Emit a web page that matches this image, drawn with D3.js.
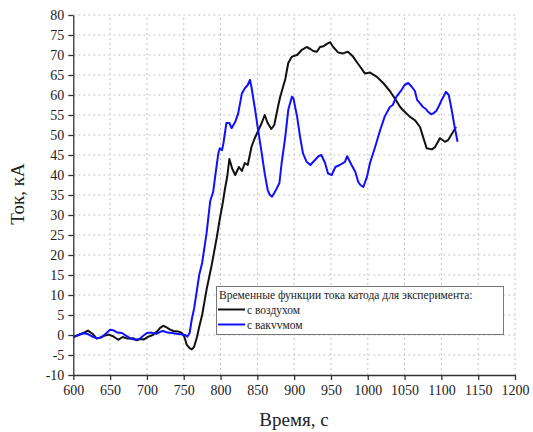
<!DOCTYPE html>
<html lang="ru">
<head>
    <meta charset="UTF-8">
    <script src="https://d3js.org/d3.v7.min.js"></script>
    <title>Ток катода</title>
    <style>
        body { margin: 0; background: #fff; }
        .grid line { stroke: #c4c4c4; stroke-dasharray: 2,3; }
        .axis path, .axis line { stroke: #333; stroke-width: 1.3; }
    </style>
</head>
<body>
<script>
    // ток при эксперименте с воздухом
    var timeAir = [600, 607, 614, 620, 626, 632, 637, 642, 648, 654, 661, 667, 674, 681, 686, 691, 696, 702, 708, 714,
        718, 722, 726, 731, 736, 742, 747, 751, 754, 758, 761, 764, 768, 771, 775, 781, 788, 795, 799, 803,
        806, 809, 812, 816, 820, 825, 829, 833, 837, 842, 846, 851, 856, 860, 864, 869, 873, 878, 881, 888,
        892, 897, 904, 910, 917, 922, 926, 931, 935, 940, 944, 949, 953, 960, 966, 973, 980, 986, 990, 996,
        1003, 1012, 1021, 1030, 1039, 1044, 1048, 1057, 1064, 1071, 1075, 1080, 1087, 1091, 1098, 1105, 1109, 1116, 1120];
    var currentAir = [-0.5, 0, 0.5, 1.1, 0.3, -0.9, -0.6, -0.2, 0.1, -0.3, -1.2, -0.5, -0.9, -0.8, -1.3, -1.0, -1.1, -0.4, 0, 0.9,
        1.8, 2.3, 2.0, 1.4, 1.0, 0.9, 0.6, -0.5, -2.4, -3.3, -3.6, -3.0, -0.5, 2.0, 5.0, 11.3, 17.5, 24.5, 29, 33,
        36.5, 39.5, 44, 41.5, 40, 42, 41, 43, 42.5, 47, 49, 51, 53, 55, 53, 51.5, 52.5, 57, 59.5, 64,
        68, 69.6, 70, 71.2, 72, 71.5, 71, 70.8, 72, 72.2, 72.7, 73.2, 72, 70.6, 70.4, 70.8, 69.6, 68, 67, 65.4,
        65.6, 64.6, 63, 61, 58.5, 57, 56.2, 54.6, 53.7, 52, 49.6, 46.7, 46.4, 46.9, 49.2, 48.3, 48.7, 50.8, 52];

    // ток при эксперименте с вакуумом
    var timeVac = [600, 607, 614, 620, 626, 632, 638, 644, 650, 654, 660, 666, 672, 678, 684, 690, 695, 700, 706, 713,
        718, 722, 728, 734, 740, 746, 752, 755, 758, 761, 764, 768, 771, 775, 781, 786, 790, 793, 797, 799,
        802, 804, 808, 812, 815, 820, 824, 829, 833, 837, 840, 842, 847, 851, 856, 860, 864, 867, 870, 873,
        876, 880, 883, 888, 892, 897, 899, 904, 908, 912, 917, 922, 927, 933, 937, 942, 946, 951, 956, 962,
        969, 972, 978, 983, 987, 990, 994, 999, 1003, 1010, 1017, 1023, 1030, 1034, 1039, 1046, 1050, 1055, 1060, 1064,
        1067, 1071, 1075, 1079, 1082, 1086, 1089, 1093, 1096, 1100, 1103, 1106, 1110, 1114, 1118, 1122];
    var currentVac = [-0.5, 0, 0.5, 0.2, -0.4, -0.8, -0.6, 0.3, 1.3, 1.2, 0.6, 0.5, -0.2, -0.9, -1.2, -1.0, -0.2, 0.5, 0.6, 0.3,
        0.8, 1.0, 0.6, 0.5, 0.3, 0.2, 0, -0.4, 0.5, 4, 6.5, 11.3, 15, 18, 25.4, 33.5, 35.8, 40, 45.4, 46.7,
        46.2, 48, 53, 53, 51.7, 53.3, 55.4, 60.4, 61.7, 62.5, 63.8, 62, 56.3, 51.3, 45.4, 40.4, 36.3, 35, 34.6, 35.5,
        36.5, 38, 43, 49.6, 56.3, 59.6, 59.2, 54.6, 49.6, 45.4, 43.3, 42.5, 43.5, 44.7, 45, 43, 40.4, 40, 42, 42.5,
        43.3, 44.7, 42.5, 40.8, 38.3, 37.5, 37, 39.6, 43, 47, 51.3, 54.6, 57, 57.5, 59.6, 61.3, 62.5, 63, 62, 61,
        58.8, 57.9, 57, 56.5, 55.8, 55.2, 55.4, 56, 57, 58.6, 59.6, 60.8, 60, 56.3, 52, 48.3];

    var xTicks = d3.range(600, 1201, 50);
    var yTicks = d3.range(-10, 81, 5);

    var serif = "'Liberation Serif', 'Times New Roman', serif";
    var canvasWidth = 533;
    var canvasHeight = 432;

    var svg = d3.select("body").append("svg")
        .attr("width", canvasWidth)
        .attr("height", canvasHeight);

    var xScale = d3.scaleLinear().domain([600, 1200]).range([73.3, 515]);
    var yScale = d3.scaleLinear().domain([-10, 80]).range([375, 15]);

    // сетка
    svg.append("g").attr("class", "grid")
        .selectAll("line").data(xTicks.slice(1)).enter().append("line")
        .attr("x1", function(d){ return xScale(d); })
        .attr("x2", function(d){ return xScale(d); })
        .attr("y1", yScale(-10))
        .attr("y2", yScale(80));
    svg.append("g").attr("class", "grid")
        .selectAll("line").data(yTicks.slice(1)).enter().append("line")
        .attr("x1", xScale(600))
        .attr("x2", xScale(1200))
        .attr("y1", function(d){ return yScale(d); })
        .attr("y2", function(d){ return yScale(d); });

    var line = d3.line()
        .x(function(d){ return xScale(d[0]); })
        .y(function(d){ return yScale(d[1]); });

    svg.append("path")
        .datum(d3.zip(timeAir, currentAir))
        .attr("fill", "none")
        .attr("stroke", "#111")
        .attr("stroke-width", 2)
        .attr("stroke-linejoin", "round")
        .attr("d", line);

    svg.append("path")
        .datum(d3.zip(timeVac, currentVac))
        .attr("fill", "none")
        .attr("stroke", "#1010ff")
        .attr("stroke-width", 2)
        .attr("stroke-linejoin", "round")
        .attr("d", line);

    // оси
    svg.append("g")
        .attr("class", "axis")
        .attr("transform", "translate(0," + yScale(-10) + ")")
        .call(d3.axisBottom(xScale).tickValues(xTicks).tickSize(5).tickPadding(5).tickSizeOuter(0)
            .tickFormat(d3.format("d")));
    svg.append("g")
        .attr("class", "axis")
        .attr("transform", "translate(" + xScale(600) + ",0)")
        .call(d3.axisLeft(yScale).tickValues(yTicks).tickSize(5).tickPadding(4).tickSizeOuter(0)
            .tickFormat(function(d){ return d < 0 ? "-" + Math.abs(d) : d; }));
    svg.selectAll(".axis").attr("font-family", null).attr("font-size", null);
    svg.selectAll(".axis text")
        .style("font-family", serif)
        .style("font-size", "14px")
        .style("fill", "#222");

    svg.append("text")
        .attr("transform", "translate(24," + 194 + ") rotate(-90)")
        .attr("text-anchor", "middle")
        .style("font-family", serif)
        .style("font-size", "19px")
        .attr("fill", "#222")
        .text("Ток, кА");
    svg.append("text")
        .attr("x", 294)
        .attr("y", 426)
        .attr("text-anchor", "middle")
        .style("font-family", serif)
        .style("font-size", "19px")
        .attr("fill", "#222")
        .text("Время, с");

    // легенда
    var legend = svg.append("g");
    legend.append("rect")
        .attr("x", 216.5).attr("y", 286.5)
        .attr("width", 287).attr("height", 48)
        .attr("fill", "#fff")
        .attr("stroke", "#777");
    legend.append("text").attr("x", 219).attr("y", 299).attr("fill", "#222")
        .text("Временные функции тока катода для эксперимента:");
    var entries = [["с воздухом", "#111"], ["с вакvvмом", "#1010ff"]];
    entries.forEach(function(e, i){
        var y = 309.5 + i * 15;
        legend.append("line").attr("x1", 218).attr("x2", 245).attr("y1", y).attr("y2", y)
            .attr("stroke", e[1]).attr("stroke-width", 2);
        legend.append("text").attr("x", 247).attr("y", y + 4).attr("fill", "#222").text(e[0]);
    });
    legend.selectAll("text").style("font-family", serif).style("font-size", "11.5px");
</script>
</body>
</html>
